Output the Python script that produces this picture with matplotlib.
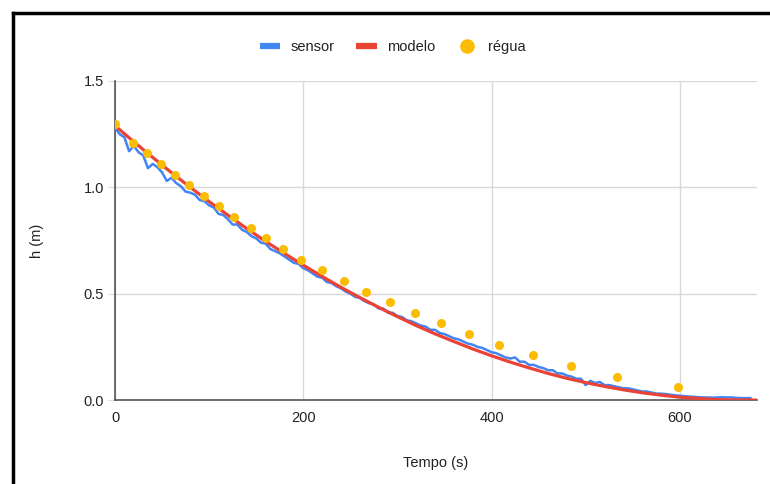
#!/usr/bin/env python3
# coding: utf-8

import matplotlib
matplotlib.use('Agg')
import matplotlib.pyplot as plt
from matplotlib.lines import Line2D

plt.rcParams['font.family'] = ['Liberation Sans', 'DejaVu Sans']

# sensor: leitura a cada 5 s
sensor_t = list(range(0, 680, 5))
sensor_h = [
    1.28, 1.25, 1.235, 1.17, 1.195, 1.165, 1.15, 1.09, 1.11, 1.095,
    1.07, 1.03, 1.045, 1.02, 1.005, 0.98, 0.975, 0.965, 0.94, 0.935,
    0.915, 0.905, 0.875, 0.87, 0.85, 0.825, 0.825, 0.80, 0.79, 0.77,
    0.76, 0.74, 0.735, 0.71, 0.70, 0.69, 0.675, 0.66, 0.645, 0.64,
    0.62, 0.61, 0.595, 0.58, 0.575, 0.555, 0.55, 0.535, 0.525, 0.51,
    0.50, 0.485, 0.48, 0.465, 0.455, 0.45, 0.43, 0.43, 0.41, 0.41,
    0.395, 0.39, 0.375, 0.37, 0.36, 0.35, 0.345, 0.33, 0.33, 0.315,
    0.31, 0.30, 0.29, 0.285, 0.275, 0.265, 0.26, 0.25, 0.245, 0.235,
    0.225, 0.22, 0.21, 0.20, 0.195, 0.20, 0.18, 0.18, 0.165, 0.165,
    0.155, 0.15, 0.14, 0.14, 0.125, 0.125, 0.115, 0.11, 0.10, 0.10,
    0.07, 0.09, 0.08, 0.085, 0.07, 0.07, 0.065, 0.06, 0.055, 0.055,
    0.05, 0.045, 0.04, 0.04, 0.035, 0.03, 0.03, 0.028, 0.025, 0.022,
    0.02, 0.018, 0.016, 0.015, 0.013, 0.012, 0.012, 0.011, 0.012, 0.013,
    0.012, 0.012, 0.010, 0.009, 0.009, 0.009,
]

# modelo: a cada 20 s
modelo_t = list(range(0, 700, 20))
modelo_h = [
    1.290, 1.214, 1.141, 1.069, 1.000, 0.933, 0.869, 0.806, 0.746, 0.689,
    0.634, 0.581, 0.530, 0.482, 0.436, 0.392, 0.350, 0.311, 0.275, 0.240,
    0.208, 0.178, 0.151, 0.125, 0.102, 0.082, 0.064, 0.048, 0.034, 0.023,
    0.013, 0.007, 0.002, 0.000, 0.000,
]

# régua
regua_t = [0, 19, 34, 49, 64, 79, 95, 111, 126, 144, 160, 178, 198, 220, 243,
           267, 292, 319, 346, 376, 408, 444, 484, 533, 598]
regua_h = [1.30, 1.21, 1.16, 1.11, 1.06, 1.01, 0.96, 0.91, 0.86, 0.81, 0.76,
           0.71, 0.66, 0.61, 0.56, 0.51, 0.46, 0.41, 0.36, 0.31, 0.26, 0.21,
           0.16, 0.11, 0.06]

AZUL = '#4285F4'
VERMELHO = '#EA4335'
AMARELO = '#FBBC04'

fig = plt.figure(figsize=(7.7, 4.84), dpi=100)
ax = fig.add_axes([115 / 770, 1 - 400 / 484, (757 - 115) / 770, (400 - 81) / 484])

ax.plot(sensor_t, sensor_h, color=AZUL, lw=1.8, zorder=3)
ax.plot(modelo_t, modelo_h, color=VERMELHO, lw=2.3, zorder=4)
ax.plot(regua_t, regua_h, 'o', color=AMARELO, ms=6.5, mec='none', zorder=5)

ax.set_xlim(0, 682)
ax.set_ylim(0, 1.5)
ax.set_xticks([0, 200, 400, 600])
ax.set_yticks([0, 0.5, 1.0, 1.5])
ax.set_yticklabels(['0.0', '0.5', '1.0', '1.5'])
ax.grid(True, color='#d9d9d9', lw=1)
ax.set_axisbelow(True)
for s in ['top', 'right']:
    ax.spines[s].set_visible(False)
for s in ['left', 'bottom']:
    ax.spines[s].set_color('#555555')
    ax.spines[s].set_linewidth(1.2)
ax.tick_params(axis='x', length=0, pad=8, labelsize=10.5, labelcolor='#222222')
ax.tick_params(axis='y', length=5, color='#d9d9d9', pad=3, labelsize=10.5, labelcolor='#222222')

ax.set_xlabel('Tempo (s)', fontsize=10.5, color='#222222', labelpad=22)
ax.set_ylabel('h (m)', fontsize=10.5, color='#222222', labelpad=28)

handles = [
    Line2D([], [], color=AZUL, lw=4.5, solid_capstyle='butt'),
    Line2D([], [], color=VERMELHO, lw=4.5, solid_capstyle='butt'),
    Line2D([], [], marker='o', ls='none', color=AMARELO, ms=10.5, mec='none'),
]
fig.legend(handles, ['sensor', 'modelo', 'régua'], loc='center',
           bbox_to_anchor=(0.51, 1 - 47 / 484), ncol=3, frameon=False,
           fontsize=10.5, handlelength=1.4, handletextpad=0.7, columnspacing=1.5,
           labelcolor='#222222')

# moldura preta
fig.add_artist(Line2D([13 / 770, 13 / 770], [0, 1 - 13 / 484], color='black', lw=2.5,
                      transform=fig.transFigure))
fig.add_artist(Line2D([13 / 770, 1], [1 - 13 / 484, 1 - 13 / 484], color='black', lw=2.5,
                      transform=fig.transFigure))

fig.savefig('out.png', dpi=100)
